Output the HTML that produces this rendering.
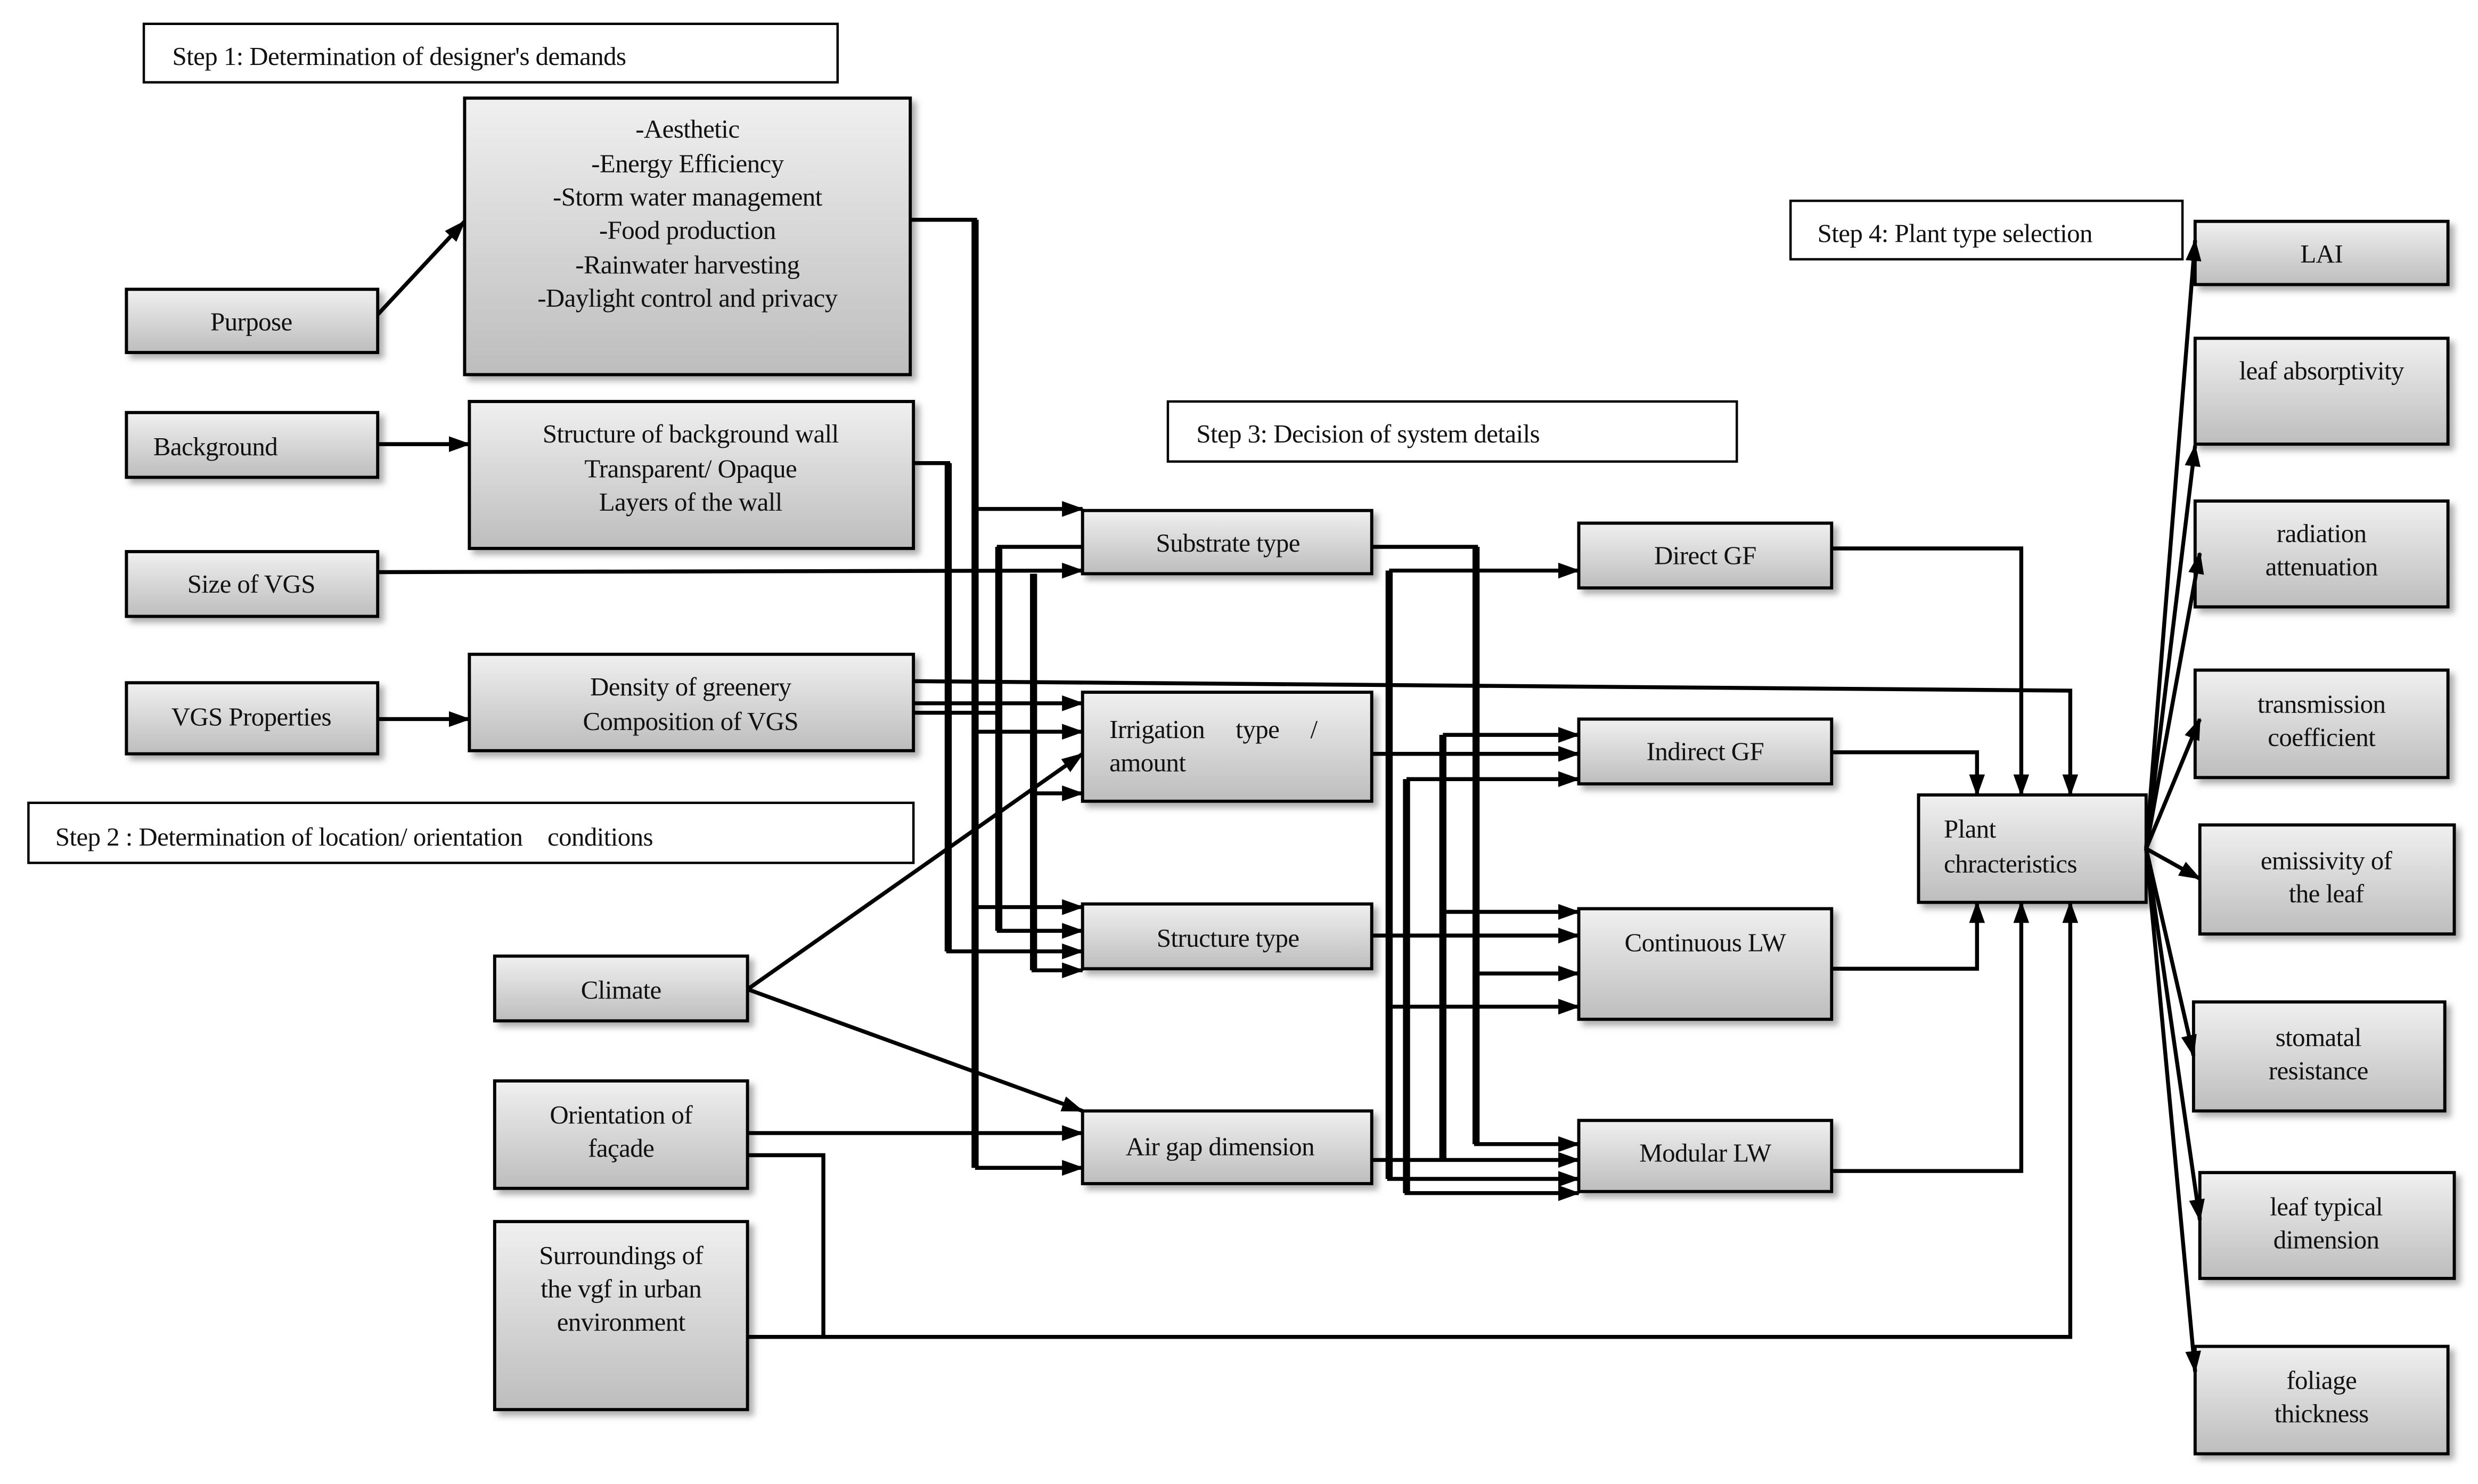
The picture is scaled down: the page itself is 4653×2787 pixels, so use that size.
<!DOCTYPE html>
<html><head><meta charset="utf-8"><style>
html,body{margin:0;padding:0;background:#fff;}
svg{display:block;}
text{font-family:"Liberation Serif",serif;font-size:16.5px;fill:#111;letter-spacing:-0.2px;}
</style></head><body>
<svg width="4653" height="2787" viewBox="0 0 1568 939" xmlns="http://www.w3.org/2000/svg">
<defs>
<linearGradient id="g" x1="0" y1="0" x2="0" y2="1"><stop offset="0" stop-color="#f0f0f0"/><stop offset="1" stop-color="#bdbdbd"/></linearGradient>
<filter id="sh" x="-10%" y="-10%" width="130%" height="130%"><feDropShadow dx="3" dy="3" stdDeviation="2" flood-color="#777" flood-opacity="0.6"/></filter>
<marker id="a" markerWidth="14" markerHeight="10" refX="13" refY="5" orient="auto" markerUnits="userSpaceOnUse"><path d="M0,0 L14,5 L0,10 z" fill="#000"/></marker>
</defs>

<g fill="#fff" stroke="#000" stroke-width="1.5">
<rect x="91" y="15" width="439" height="37"/>
<rect x="18" y="508" width="560" height="38"/>
<rect x="739" y="254" width="360" height="38"/>
<rect x="1133" y="127" width="248" height="37"/>
</g>
<text x="109" y="41">Step 1: Determination of designer's demands</text>
<text x="35" y="535" xml:space="preserve">Step 2 : Determination of location/ orientation    conditions</text>
<text x="757" y="280">Step 3: Decision of system details</text>
<text x="1150" y="153">Step 4: Plant type selection</text>

<g fill="url(#g)" stroke="#000" stroke-width="2" filter="url(#sh)">
<rect x="80" y="183" width="159" height="40"/>
<rect x="294" y="62" width="282" height="175"/>
<rect x="80" y="261" width="159" height="41"/>
<rect x="297" y="254" width="281" height="93"/>
<rect x="80" y="349" width="159" height="41"/>
<rect x="80" y="432" width="159" height="45"/>
<rect x="297" y="414" width="281" height="61"/>
<rect x="313" y="605" width="160" height="41"/>
<rect x="313" y="684" width="160" height="68"/>
<rect x="313" y="773" width="160" height="119"/>
<rect x="685" y="323" width="183" height="40"/>
<rect x="685" y="438" width="183" height="69"/>
<rect x="685" y="572" width="183" height="41"/>
<rect x="685" y="703" width="183" height="46"/>
<rect x="999" y="331" width="160" height="41"/>
<rect x="999" y="455" width="160" height="41"/>
<rect x="999" y="575" width="160" height="70"/>
<rect x="999" y="709" width="160" height="45"/>
<rect x="1214" y="503" width="144" height="68"/>
<rect x="1389" y="140" width="160" height="40"/>
<rect x="1389" y="214" width="160" height="67"/>
<rect x="1389" y="317" width="160" height="67"/>
<rect x="1389" y="424" width="160" height="68"/>
<rect x="1392" y="522" width="161" height="69"/>
<rect x="1388" y="634" width="159" height="69"/>
<rect x="1392" y="742" width="161" height="67"/>
<rect x="1389" y="852" width="160" height="68"/>
</g>

<g text-anchor="middle">
<text x="159" y="209">Purpose</text>
<text x="435" y="87">-Aesthetic</text>
<text x="435" y="109">-Energy Efficiency</text>
<text x="435" y="130">-Storm water management</text>
<text x="435" y="151">-Food production</text>
<text x="435" y="173">-Rainwater harvesting</text>
<text x="435" y="194">-Daylight control and privacy</text>
<text x="437" y="280">Structure of background wall</text>
<text x="437" y="302">Transparent/ Opaque</text>
<text x="437" y="323">Layers of the wall</text>
<text x="159" y="375">Size of VGS</text>
<text x="159" y="459">VGS Properties</text>
<text x="437" y="440">Density of greenery</text>
<text x="437" y="462">Composition of VGS</text>
<text x="393" y="632">Climate</text>
<text x="393" y="711">Orientation of</text>
<text x="393" y="732">façade</text>
<text x="393" y="800">Surroundings of</text>
<text x="393" y="821">the vgf in urban</text>
<text x="393" y="842">environment</text>
<text x="777" y="349">Substrate type</text>
<text x="777" y="599">Structure type</text>
<text x="772" y="731">Air gap dimension</text>
<text x="1079" y="357">Direct GF</text>
<text x="1079" y="481">Indirect GF</text>
<text x="1079" y="602">Continuous LW</text>
<text x="1079" y="735">Modular LW</text>
<text x="1469" y="166">LAI</text>
<text x="1469" y="240">leaf absorptivity</text>
<text x="1469" y="343">radiation</text>
<text x="1469" y="364">attenuation</text>
<text x="1469" y="451">transmission</text>
<text x="1469" y="472">coefficient</text>
<text x="1472" y="550">emissivity of</text>
<text x="1472" y="571">the leaf</text>
<text x="1467" y="662">stomatal</text>
<text x="1467" y="683">resistance</text>
<text x="1472" y="769">leaf typical</text>
<text x="1472" y="790">dimension</text>
<text x="1469" y="879">foliage</text>
<text x="1469" y="900">thickness</text>
</g>
<text x="97" y="288">Background</text>
<text x="702" y="467" xml:space="preserve">Irrigation     type     /</text>
<text x="702" y="488">amount</text>
<text x="1230" y="530">Plant</text>
<text x="1230" y="552">chracteristics</text>

<g fill="none" stroke="#000" stroke-width="2.5">
<line x1="239" y1="199" x2="294" y2="140" marker-end="url(#a)"/>
<line x1="239" y1="281" x2="297" y2="281" marker-end="url(#a)"/>
<line x1="239" y1="455" x2="297" y2="455" marker-end="url(#a)"/>
<line x1="239" y1="362" x2="685" y2="361" marker-end="url(#a)"/>
<polyline points="576,139 617,139 617,739"/>
<line x1="617" y1="322" x2="685" y2="322" marker-end="url(#a)"/>
<line x1="617" y1="463" x2="685" y2="463" marker-end="url(#a)"/>
<line x1="617" y1="574" x2="685" y2="574" marker-end="url(#a)"/>
<line x1="617" y1="739" x2="685" y2="739" marker-end="url(#a)"/>
<polyline points="578,293 600,293 600,602 685,602" marker-end="url(#a)"/>
<polyline points="578,431 1310,437 1310,503" marker-end="url(#a)"/>
<line x1="578" y1="445" x2="685" y2="445" marker-end="url(#a)"/>
<polyline points="578,451 632,451"/>
<polyline points="685,346 632,346 632,589 685,589" marker-end="url(#a)"/>
<polyline points="654,363 654,614 685,614" marker-end="url(#a)"/>
<line x1="654" y1="502" x2="685" y2="502" marker-end="url(#a)"/>
<line x1="473" y1="626" x2="685" y2="477" marker-end="url(#a)"/>
<line x1="473" y1="626" x2="685" y2="703" marker-end="url(#a)"/>
<line x1="473" y1="717" x2="685" y2="717" marker-end="url(#a)"/>
<polyline points="473,731 521,731 521,846 1310,846 1310,571" marker-end="url(#a)"/>
<line x1="473" y1="846" x2="521" y2="846"/>
<polyline points="868,346 934,346 934,724 999,724" marker-end="url(#a)"/>
<line x1="934" y1="616" x2="999" y2="616" marker-end="url(#a)"/>
<line x1="879" y1="361" x2="999" y2="361" marker-end="url(#a)"/>
<polyline points="879,361 879,746 999,746" marker-end="url(#a)"/>
<line x1="879" y1="637" x2="999" y2="637" marker-end="url(#a)"/>
<line x1="868" y1="477" x2="999" y2="477" marker-end="url(#a)"/>
<line x1="913" y1="465" x2="999" y2="465" marker-end="url(#a)"/>
<line x1="913" y1="465" x2="913" y2="734"/>
<line x1="913" y1="577" x2="999" y2="577" marker-end="url(#a)"/>
<line x1="890" y1="493" x2="999" y2="493" marker-end="url(#a)"/>
<polyline points="890,493 890,755 999,755" marker-end="url(#a)"/>
<line x1="868" y1="592" x2="999" y2="592" marker-end="url(#a)"/>
<line x1="868" y1="734" x2="999" y2="734" marker-end="url(#a)"/>
<polyline points="1159,347 1279,347 1279,503" marker-end="url(#a)"/>
<polyline points="1159,476 1251,476 1251,503" marker-end="url(#a)"/>
<polyline points="1159,613 1251,613 1251,571" marker-end="url(#a)"/>
<polyline points="1159,741 1279,741 1279,571" marker-end="url(#a)"/>
<line x1="1358" y1="537" x2="1389" y2="152" marker-end="url(#a)"/>
<line x1="1358" y1="537" x2="1389" y2="282" marker-end="url(#a)"/>
<line x1="1358" y1="537" x2="1392" y2="350" marker-end="url(#a)"/>
<line x1="1358" y1="537" x2="1392" y2="455" marker-end="url(#a)"/>
<line x1="1358" y1="537" x2="1392" y2="556" marker-end="url(#a)"/>
<line x1="1358" y1="537" x2="1388" y2="668" marker-end="url(#a)"/>
<line x1="1358" y1="537" x2="1392" y2="772" marker-end="url(#a)"/>
<line x1="1358" y1="537" x2="1389" y2="868" marker-end="url(#a)"/>
</g>
<g stroke="#000" stroke-width="4.5" fill="none">
<line x1="617" y1="139" x2="617" y2="739"/>
<line x1="600" y1="293" x2="600" y2="602"/>
<line x1="632" y1="346" x2="632" y2="589"/>
<line x1="654" y1="363" x2="654" y2="614"/>
<line x1="934" y1="346" x2="934" y2="724"/>
<line x1="879" y1="361" x2="879" y2="746"/>
<line x1="913" y1="465" x2="913" y2="734"/>
<line x1="890" y1="493" x2="890" y2="755"/>
</g>
</svg>
</body></html>
